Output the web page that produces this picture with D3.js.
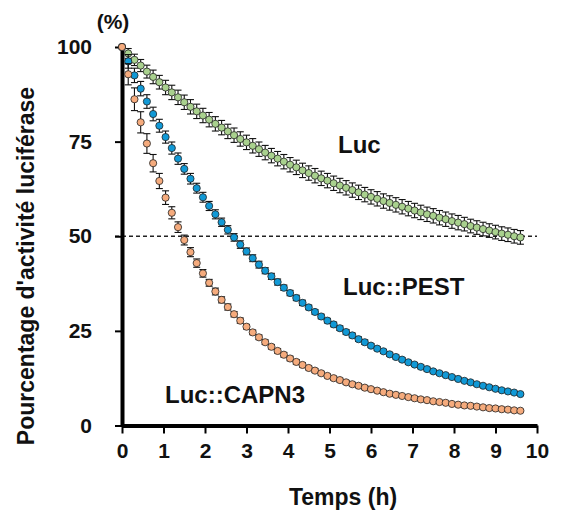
<!DOCTYPE html>
<html>
<head>
<meta charset="utf-8">
<title>Luciferase activity decay</title>
<script src="https://cdn.jsdelivr.net/npm/d3@7"></script>
<style>
  body { margin: 0; background: #fff; }
  text { font-family: "Liberation Sans", Arial, sans-serif; font-weight: bold; fill: #111; }
</style>
</head>
<body>
<script>
// sampling times, minutes
var minutes = [0,9,18,27,36,45,54,63,72,81,90,99,108,117,126,135,144,153,162,171,
  180,189,198,207,216,225,234,243,252,261,270,279,288,297,306,315,324,333,342,351,
  360,369,378,387,396,405,414,423,432,441,450,459,468,477,486,495,504,513,522,531,
  540,549,558,567,576];

var luc = [100.0,98.3,96.6,95.1,93.5,92.1,90.7,89.3,88.0,86.7,85.4,84.2,83.0,81.9,80.8,79.7,78.7,77.7,76.7,75.7,
  74.8,73.9,73.0,72.1,71.3,70.5,69.7,68.9,68.2,67.4,66.7,66.0,65.3,64.7,64.0,63.4,62.8,62.2,61.6,61.0,
  60.4,59.9,59.3,58.8,58.3,57.8,57.3,56.8,56.3,55.8,55.4,54.9,54.5,54.0,53.6,53.2,52.7,52.3,51.9,51.5,
  51.1,50.7,50.4,50.0,49.7];
var lucErr = [0,1.3,1.5,1.6,1.7,1.8,1.8,1.9,1.9,1.9,1.9,1.9,1.9,1.9,1.9,1.9,1.9,1.9,1.9,1.9,
  1.9,1.9,1.9,1.9,1.9,1.9,1.9,1.9,1.9,1.9,1.9,1.9,1.9,1.9,1.9,1.9,1.9,1.9,1.9,1.9,
  1.9,1.9,1.9,1.9,1.9,1.9,1.9,1.9,1.9,1.9,1.9,1.9,1.9,1.9,1.9,1.8,1.8,1.8,1.8,1.8,
  1.8,1.8,1.8,1.8,1.8];

var pest = [100.0,96.2,92.5,89.0,85.6,82.3,79.2,76.2,73.3,70.5,67.8,65.2,62.7,60.3,58.0,55.8,53.7,51.7,49.7,47.8,
  46.0,44.2,42.5,40.9,39.4,37.9,36.4,35.0,33.7,32.4,31.2,30.0,28.8,27.7,26.7,25.7,24.7,23.8,22.8,22.0,
  21.1,20.3,19.6,18.8,18.1,17.4,16.7,16.1,15.5,14.9,14.3,13.8,13.3,12.8,12.3,11.8,11.4,10.9,10.5,10.1,
  9.7,9.3,9.0,8.7,8.3];
var pestErr = [0,1.8,1.9,1.9,1.8,1.8,1.7,1.6,1.6,1.5,1.4,1.4,1.3,1.3,1.2,1.2,1.1,1.1,1.0,1.0,
  0.9,0.9,0.9,0.8,0.8,0.8,0.7,0.7,0.7,0.7,0.6,0.6,0.6,0.6,0.6,0.6,0.6,0.6,0.6,0.6,
  0.5,0.5,0.5,0.5,0.5,0.5,0.5,0.5,0.5,0.5,0.4,0.4,0.4,0.4,0.4,0.4,0.4,0.4,0.4,0.4,
  0.3,0.3,0.3,0.3,0.3];

var capn3 = [100.0,92.8,86.2,80.1,74.5,69.3,64.6,60.2,56.2,52.4,49.0,45.8,42.9,40.2,37.7,35.4,33.2,31.3,29.4,27.7,
  26.1,24.6,23.3,22.0,20.8,19.7,18.7,17.7,16.8,16.0,15.2,14.5,13.8,13.1,12.5,12.0,11.4,10.9,10.5,10.0,
  9.6,9.2,8.8,8.4,8.1,7.8,7.5,7.2,6.9,6.7,6.4,6.2,6.0,5.7,5.5,5.3,5.2,5.0,4.8,4.6,
  4.5,4.3,4.2,4.0,3.9];
var capn3Err = [0,2.8,3.0,2.8,2.6,2.3,2.0,1.8,1.6,1.4,1.3,1.2,1.1,1.0,0.9,0.9,0.8,0.8,0.7,0.7,
  0.6,0.6,0.6,0.6,0.6,0.6,0.6,0.6,0.6,0.6,0.5,0.5,0.5,0.5,0.5,0.5,0.5,0.5,0.5,0.5,
  0.4,0.4,0.4,0.4,0.4,0.4,0.4,0.4,0.4,0.4,0.3,0.3,0.3,0.3,0.3,0.3,0.3,0.3,0.3,0.3,
  0.3,0.3,0.3,0.3,0.3];

var xTicks = [0,1,2,3,4,5,6,7,8,9,10];
var yTicks = [0,25,50,75,100];

var series = [
  {name: "Luc", values: luc, err: lucErr, color: "#a9d18e", lx: 338, ly: 153},
  {name: "Luc::PEST", values: pest, err: pestErr, color: "#1199d6", lx: 343, ly: 295},
  {name: "Luc::CAPN3", values: capn3, err: capn3Err, color: "#f5ab7d", lx: 165, ly: 403}
];

var svg = d3.select("body").append("svg")
  .attr("width", 567).attr("height", 513);

var x = d3.scaleLinear().domain([0, 10]).range([122, 537]);
var y = d3.scaleLinear().domain([0, 100]).range([425.5, 47]);

// 50 % reference line
svg.append("line")
  .attr("x1", x(0) - 7).attr("x2", x(10))
  .attr("y1", y(50)).attr("y2", y(50))
  .style("stroke", "#222").style("stroke-width", 1.4)
  .style("stroke-dasharray", "4,3");

// axes
var xAxis = svg.append("g")
  .attr("transform", "translate(0," + y(0) + ")")
  .call(d3.axisBottom(x).tickValues(xTicks).tickSize(8).tickSizeOuter(0).tickPadding(10));
var yAxis = svg.append("g")
  .attr("transform", "translate(" + x(0) + ",0)")
  .call(d3.axisLeft(y).tickValues(yTicks).tickSize(7).tickSizeOuter(0).tickPadding(23));

[xAxis, yAxis].forEach(function (g) {
  g.select(".domain").style("stroke", "#000").style("stroke-width", 4);
  g.selectAll(".tick line").style("stroke", "#000").style("stroke-width", 2);
  g.selectAll(".tick text")
    .style("font-family", '"Liberation Sans", Arial, sans-serif')
    .style("font-weight", "bold").style("font-size", "21px").style("fill", "#111");
});

// series: error bars then markers
series.forEach(function (s) {
  var g = svg.append("g");
  var pts = s.values.map(function (v, i) {
    return {t: minutes[i] / 60, v: v, e: s.err[i]};
  });
  var eb = g.selectAll("g.eb").data(pts).enter().append("g").attr("class", "eb")
    .style("stroke", "#111").style("stroke-width", 1.1);
  eb.append("line")
    .attr("x1", function (d) { return x(d.t); }).attr("x2", function (d) { return x(d.t); })
    .attr("y1", function (d) { return y(d.v + d.e); }).attr("y2", function (d) { return y(d.v - d.e); });
  eb.append("line")
    .attr("x1", function (d) { return x(d.t) - 3.5; }).attr("x2", function (d) { return x(d.t) + 3.5; })
    .attr("y1", function (d) { return y(d.v + d.e); }).attr("y2", function (d) { return y(d.v + d.e); });
  eb.append("line")
    .attr("x1", function (d) { return x(d.t) - 3.5; }).attr("x2", function (d) { return x(d.t) + 3.5; })
    .attr("y1", function (d) { return y(d.v - d.e); }).attr("y2", function (d) { return y(d.v - d.e); });
  g.selectAll("circle").data(pts).enter().append("circle")
    .attr("cx", function (d) { return x(d.t); })
    .attr("cy", function (d) { return y(d.v); })
    .attr("r", 3.6)
    .style("fill", s.color).style("stroke", "#222").style("stroke-width", 0.8);
  svg.append("text").attr("x", s.lx).attr("y", s.ly)
    .style("font-size", "24px").text(s.name);
});

// titles
svg.append("text").attr("x", 113).attr("y", 29).attr("text-anchor", "middle")
  .style("font-size", "21px").text("(%)");
svg.append("text").attr("x", 343).attr("y", 505).attr("text-anchor", "middle")
  .style("font-size", "23px").text("Temps  (h)");
svg.append("text")
  .attr("transform", "translate(34,266) rotate(-90)")
  .attr("text-anchor", "middle")
  .style("font-size", "23px").text("Pourcentage d'activité luciférase");
</script>
</body>
</html>
